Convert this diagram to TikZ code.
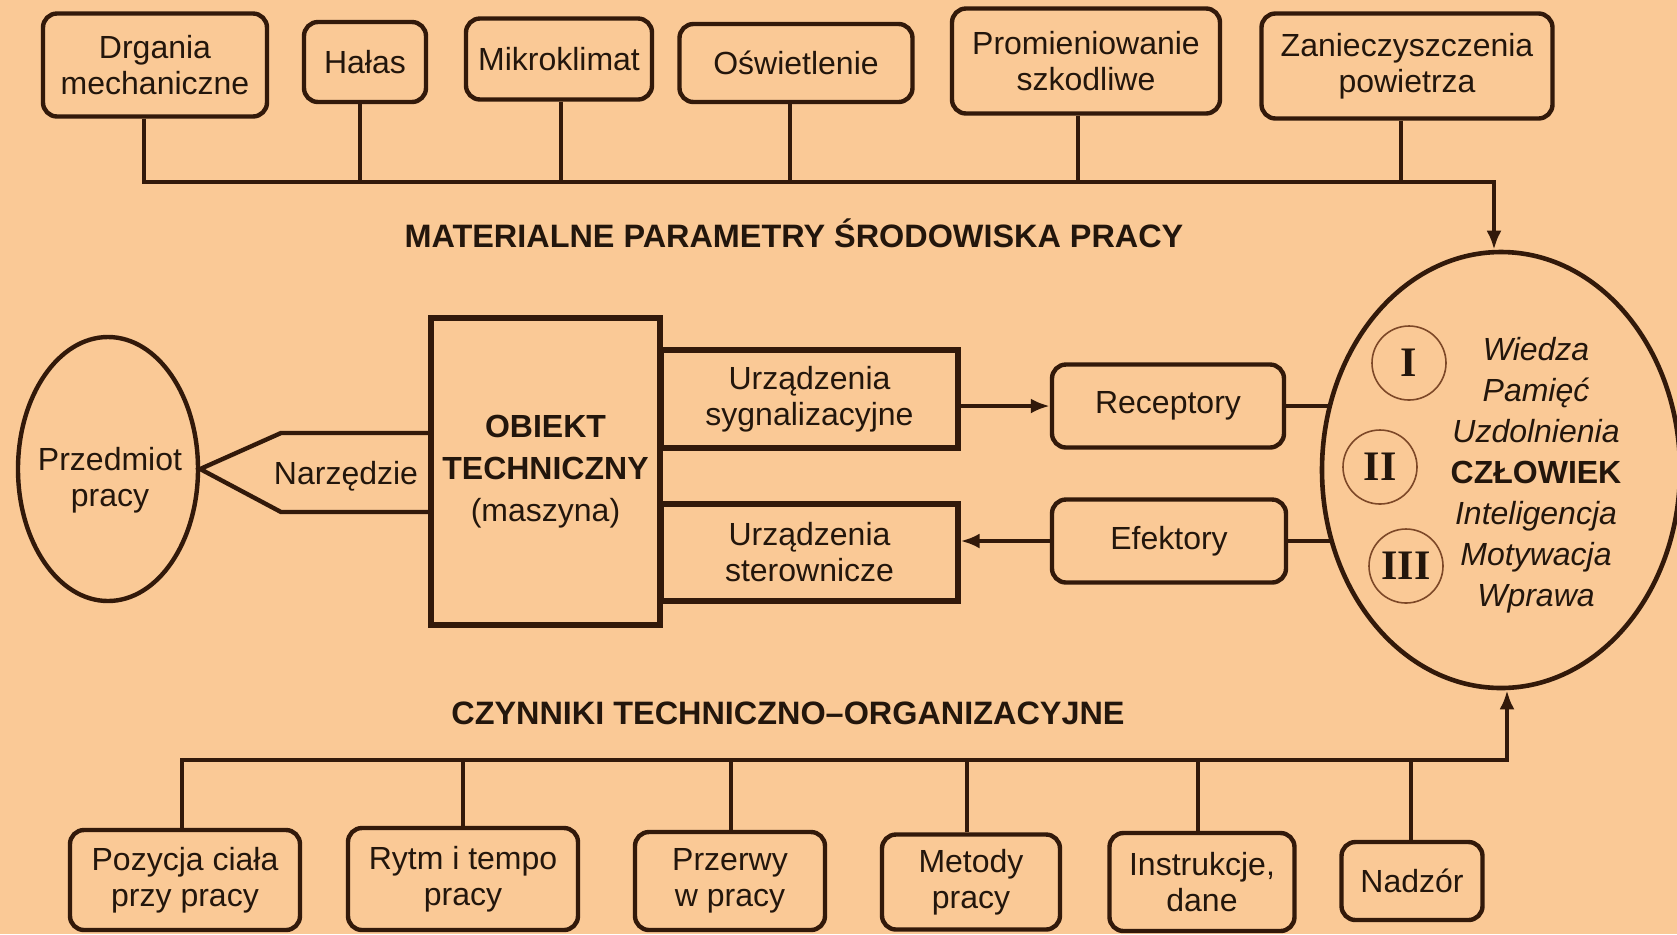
\documentclass[tikz,border=0pt]{standalone}
\usepackage{fontspec}
\setmainfont{Liberation Sans}
\newfontfamily\romfont{Liberation Serif}
\usetikzlibrary{arrows.meta,shapes.geometric}
\pgfdeclarelayer{bgl}
\pgfdeclarelayer{conl}
\pgfsetlayers{bgl,conl,main}
\definecolor{bgc}{RGB}{250,201,150}
\definecolor{ln}{RGB}{50,25,10}
\definecolor{tx}{RGB}{35,22,12}
\definecolor{rc}{RGB}{125,72,40}
\begin{document}
\begin{tikzpicture}[x=0.5pt,y=-0.5pt,
  rbox/.style={draw=ln,line width=2.2pt,rounded corners=7pt,fill=bgc,align=center,inner sep=0pt,text=tx,font=\fontsize{16}{18}\selectfont},
  sbox/.style={draw=ln,line width=2.6pt,fill=bgc,align=center,inner sep=0pt,text=tx,font=\fontsize{16}{18}\selectfont},
  conn/.style={draw=ln,line width=1.7pt},
  bus/.style={draw=ln,line width=2.2pt},
  arr/.style={-{Latex[length=9.5pt,width=7.5pt]}},
  ttl/.style={text=tx,font=\bfseries\fontsize{16.2}{18}\selectfont},
  lbl/.style={text=tx,align=center,font=\fontsize{16}{18}\selectfont},
  rom/.style={circle,draw=rc,line width=0.8pt,minimum size=37pt,inner sep=0pt,text=tx,font=\romfont\bfseries\fontsize{21}{21}\selectfont}
]
\useasboundingbox (0,0) rectangle (1677,934);
\begin{pgfonlayer}{bgl}
\fill[bgc] (0,0) rectangle (1677,934);
\end{pgfonlayer}

% top boxes
\node[rbox,minimum width=112pt,minimum height=51.5pt] (drg) at (155,65) {Drgania\\mechaniczne};
\node[rbox,minimum width=61pt,minimum height=40pt] (hal) at (365,62) {Hałas};
\node[rbox,minimum width=93pt,minimum height=40.5pt] (mik) at (559,59) {Mikroklimat};
\node[rbox,minimum width=116.5pt,minimum height=39pt] (osw) at (796,63) {Oświetlenie};
\node[rbox,minimum width=134pt,minimum height=52.5pt] (pro) at (1086,61) {Promieniowanie\\szkodliwe};
\node[rbox,minimum width=145.5pt,minimum height=52.5pt] (zan) at (1407,66) {Zanieczyszczenia\\powietrza};

% bottom boxes
\node[rbox,minimum width=115pt,minimum height=50pt] (poz) at (185,880) {Pozycja ciała\\przy pracy};
\node[rbox,minimum width=115pt,minimum height=51pt] (ryt) at (463,879) {Rytm i tempo\\pracy};
\node[rbox,minimum width=95pt,minimum height=49pt] (prz) at (730,881) {Przerwy\\w pracy};
\node[rbox,minimum width=89pt,minimum height=47.5pt] (met) at (971,882) {Metody\\pracy};
\node[rbox,minimum width=92.5pt,minimum height=49pt] (ins) at (1202,882) {Instrukcje,\\dane};
\node[rbox,minimum width=70.5pt,minimum height=39pt] (nad) at (1412,881) {Nadzór};

% human
\node[ellipse,draw=ln,line width=2.3pt,fill=bgc,minimum width=179pt,minimum height=218pt,inner sep=0pt] (hum) at (1501,470) {};
\node[align=center,text=tx,font=\itshape\fontsize{16}{20.5}\selectfont] (humt) at (1536,475)
  {Wiedza\\Pamięć\\Uzdolnienia\\{\upshape\bfseries CZŁOWIEK}\\Inteligencja\\Motywacja\\Wprawa};
\node[rom] (r1) at (1409,363) {I};
\node[rom] (r2) at (1380,467) {II};
\node[rom] (r3) at (1406,566) {III};

% middle
\node[ellipse,draw=ln,line width=2.2pt,fill=bgc,minimum width=90pt,minimum height=132pt,inner sep=0pt] (pp) at (108,469) {};
\node[lbl] (ppt) at (110,480) {Przedmiot\\pracy};
\node[sbox,minimum width=114.5pt,minimum height=153.5pt,font=\fontsize{16}{21}\selectfont] (obj) at (545.5,471.5) {\textbf{OBIEKT}\\\textbf{TECHNICZNY}\\(maszyna)};
\node[sbox,minimum width=148.5pt,minimum height=49pt] (syg) at (809.5,399) {Urządzenia\\sygnalizacyjne};
\node[sbox,minimum width=148.5pt,minimum height=48.5pt] (ste) at (809.5,552.5) {Urządzenia\\sterownicze};
\node[rbox,minimum width=116pt,minimum height=41.5pt] (rec) at (1168,406) {Receptory};
\node[rbox,minimum width=117pt,minimum height=41.5pt] (efe) at (1169,541) {Efektory};

% tool
\coordinate (tu) at (281,433);
\coordinate (tl) at (281,512);
\draw[ln,line width=2.2pt] (obj.west |- tu) -- (tu) -- (pp.east) -- (tl) -- (obj.west |- tl);
\node[lbl] (nar) at (346,476) {Narzędzie};

% titles
\node[ttl] (mt) at (794,233) {MATERIALNE PARAMETRY ŚRODOWISKA PRACY};
\node[ttl] (ct) at (788,713) {CZYNNIKI TECHNICZNO–ORGANIZACYJNE};

% top bus
\coordinate (t1) at (144,182);
\coordinate (t2) at (360,182);
\coordinate (t3) at (561,182);
\coordinate (t4) at (790,182);
\coordinate (t5) at (1078,182);
\coordinate (t6) at (1401,182);
\coordinate (tb) at (1494,182);
\draw[bus,arr] (t1 |- drg.south) -- (t1) -- (tb) -- (tb |- hum.north);
\draw[conn] (t2 |- hal.south) -- (t2);
\draw[conn] (t3 |- mik.south) -- (t3);
\draw[conn] (t4 |- osw.south) -- (t4);
\draw[conn] (t5 |- pro.south) -- (t5);
\draw[conn] (t6 |- zan.south) -- (t6);

% bottom bus
\coordinate (b1) at (182,760);
\coordinate (b2) at (463,760);
\coordinate (b3) at (731,760);
\coordinate (b4) at (967,760);
\coordinate (b5) at (1198,760);
\coordinate (b6) at (1411,760);
\coordinate (bb) at (1507,760);
\draw[bus,arr] (b1 |- poz.north) -- (b1) -- (bb) -- (bb |- hum.south);
\draw[conn] (b2 |- ryt.north) -- (b2);
\draw[conn] (b3 |- prz.north) -- (b3);
\draw[conn] (b4 |- met.north) -- (b4);
\draw[conn] (b5 |- ins.north) -- (b5);
\draw[conn] (b6 |- nad.north) -- (b6);

% signal arrows
\draw[conn,line width=2.2pt,arr] (syg.east |- rec.west) -- (rec.west);
\draw[conn,line width=2.2pt,arr] (efe.west) -- (efe.west -| ste.east);
\begin{pgfonlayer}{conl}
\draw[conn,line width=2.2pt] (rec.east) -- (rec.east -| hum.center);
\draw[conn,line width=2.2pt] (efe.east) -- (efe.east -| hum.center);
\end{pgfonlayer}
\end{tikzpicture}
\end{document}
